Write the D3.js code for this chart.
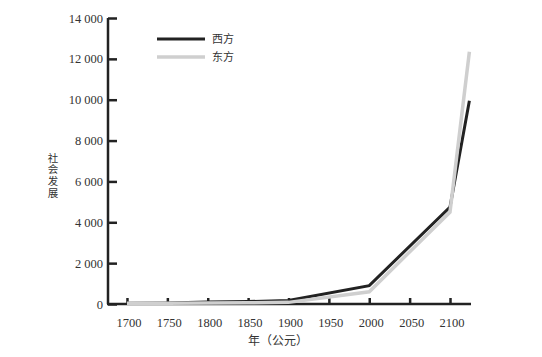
<!DOCTYPE html>
<html><head><meta charset="utf-8">
<script src="https://cdn.jsdelivr.net/npm/d3@7"></script>
<style>body{margin:0;background:#fff}svg{display:block}
.tick text{font-family:'Liberation Serif','Times New Roman',serif !important;}</style>
</head><body>
<svg id="c" width="542" height="357"></svg>
<script>
const years = [1700, 1750, 1800, 1850, 1900, 2000, 2100, 2124];
const west = [40, 50, 95, 120, 170, 900, 4750, 9950];
const east = [40, 42, 50, 60, 80, 600, 4500, 12350];
const seriesNames = ["西方", "东方"];
const yTicks = [0, 2000, 4000, 6000, 8000, 10000, 12000, 14000];
const xTicks = [1700, 1750, 1800, 1850, 1900, 1950, 2000, 2050, 2100];
const yTitle = "社会发展";
const xTitle = "年（公元）";

const svg = d3.select("#c");
const x = d3.scaleLinear().domain([1676.5, 2126]).range([108, 471]);
const y = d3.scaleLinear().domain([0, 14000]).range([304, 18]);
const serif = "Liberation Serif, Times New Roman, serif";
const cjk = "Noto Sans CJK SC, sans-serif";

// y axis
const ya = svg.append("g").attr("transform", "translate(108,0)")
  .call(d3.axisRight(y).tickValues(yTicks).tickSize(9).tickSizeOuter(0)
    .tickFormat(d => d3.format(",")(d).replace(",", " ")));
ya.attr("font-family", serif).attr("font-size", 12.5);
ya.select(".domain").attr("stroke", "#222").attr("stroke-width", 2.5).attr("d", `M0,${y(14000)}V${y(0)}`);
ya.selectAll(".tick line").attr("stroke", "#222").attr("stroke-width", 2.5);
ya.selectAll(".tick text").attr("x", -5).attr("text-anchor", "end").attr("fill", "#333");

// x axis
const xa = svg.append("g").attr("transform", "translate(0,304)")
  .call(d3.axisTop(x).tickValues(xTicks).tickSize(6).tickSizeOuter(0).tickFormat(d3.format("d")));
xa.attr("font-family", serif).attr("font-size", 12.5);
xa.select(".domain").attr("stroke", "#222").attr("stroke-width", 2.5).attr("d", `M107,0H${x.range()[1]}`);
xa.selectAll(".tick line").attr("stroke", "#222").attr("stroke-width", 2.5);
xa.selectAll(".tick text").attr("y", 14).attr("dy", "0.71em").attr("x", 1.5).attr("fill", "#333");

const line = d3.line().x((d, i) => x(years[i])).y(d => y(d));
svg.append("path").datum(west).attr("d", line).attr("fill", "none")
  .attr("stroke", "#222").attr("stroke-width", 3).attr("stroke-linejoin", "miter");
svg.append("path").datum(east).attr("d", line).attr("fill", "none")
  .attr("stroke", "#cfcfcf").attr("stroke-width", 3.5).attr("stroke-linejoin", "miter");

// legend
const colors = ["#222", "#cfcfcf"];
seriesNames.forEach((n, i) => {
  const ly = 39 + i * 18;
  svg.append("line").attr("x1", 157).attr("x2", 205).attr("y1", ly).attr("y2", ly)
    .attr("stroke", colors[i]).attr("stroke-width", i ? 3.5 : 3);
  svg.append("text").attr("x", 212).attr("y", ly).attr("dy", "0.35em")
    .attr("font-family", cjk).attr("font-size", 11).attr("fill", "#333").text(n);
});

// y title (vertical stacked, single text)
svg.append("text").attr("x", 53).attr("y", 152.5)
  .style("writing-mode", "vertical-rl").style("text-orientation", "upright")
  .attr("font-family", cjk).attr("font-size", 10.5).attr("letter-spacing", 1.2)
  .attr("fill", "#333").text(yTitle);
svg.append("text").attr("x", 278).attr("y", 341).attr("dy", "0.35em")
  .attr("text-anchor", "middle").attr("font-family", cjk).attr("font-size", 12)
  .attr("fill", "#333").text(xTitle);
</script>
</body></html>
